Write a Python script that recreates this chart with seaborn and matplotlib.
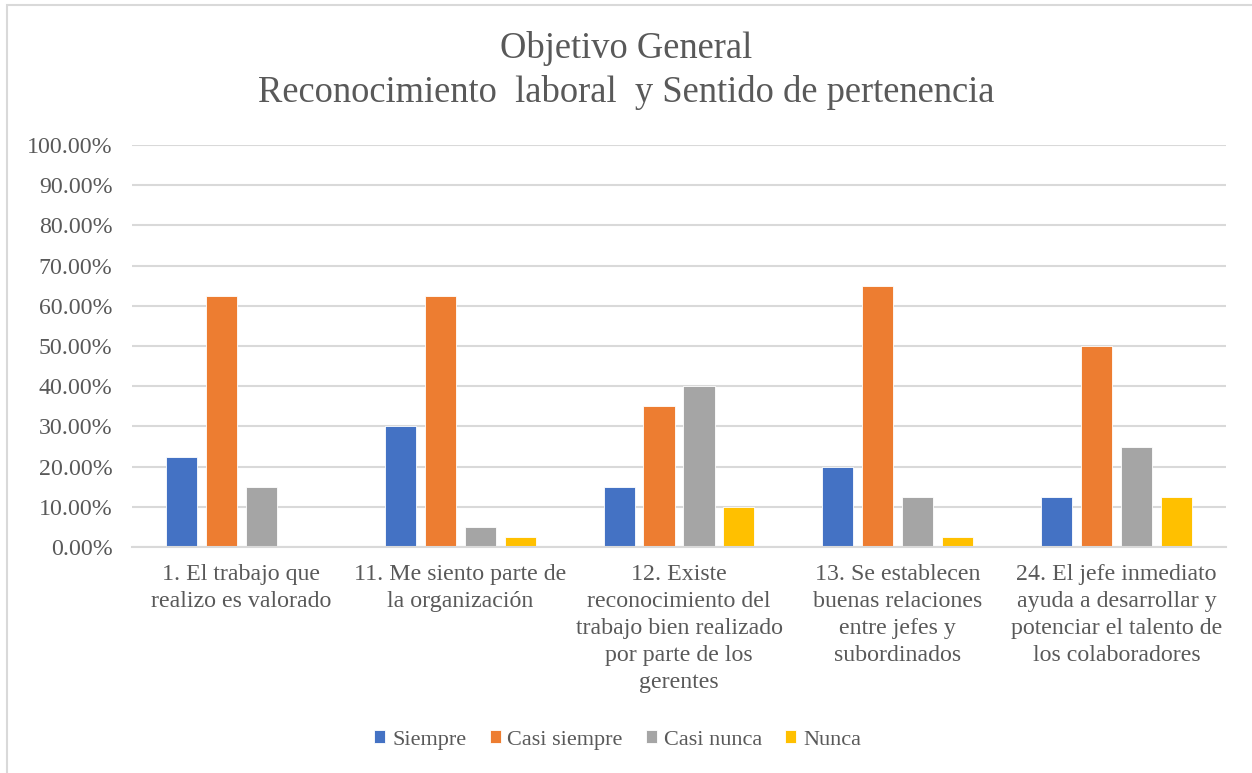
import pandas as pd
import seaborn as sns
import matplotlib.pyplot as plt
from matplotlib.patches import Rectangle
from matplotlib.ticker import FuncFormatter

categories = [
    "1. El trabajo que\nrealizo es valorado",
    "11. Me siento parte de\nla organización",
    "12. Existe\nreconocimiento del\ntrabajo bien realizado\npor parte de los\ngerentes",
    "13. Se establecen\nbuenas relaciones\nentre jefes y\nsubordinados",
    "24. El jefe inmediato\nayuda a desarrollar y\npotenciar el talento de\nlos colaboradores",
]
series = ["Siempre", "Casi siempre", "Casi nunca", "Nunca"]
siempre = [22.5, 30.0, 15.0, 20.0, 12.5]
casi_siempre = [62.5, 62.5, 35.0, 65.0, 50.0]
casi_nunca = [15.0, 5.0, 40.0, 12.5, 25.0]
nunca = [0.0, 2.5, 10.0, 2.5, 12.5]
colors = ["#4472C4", "#ED7D31", "#A5A5A5", "#FFC000"]

rows = []
for name, vals in zip(series, [siempre, casi_siempre, casi_nunca, nunca]):
    for cat, v in zip(categories, vals):
        rows.append({"cat": cat, "serie": name, "valor": v})
df = pd.DataFrame(rows)

sns.set_style("white")
plt.rcParams["font.family"] = ["Liberation Serif", "DejaVu Serif"]
text_color = "#595959"

fig = plt.figure(figsize=(12.52, 7.73), dpi=100)
ax = fig.add_axes([132 / 1252, 1 - 547 / 773, (1226 - 132) / 1252, (547 - 145) / 773])

sns.barplot(data=df, x="cat", y="valor", hue="serie", hue_order=series,
            palette=colors, saturation=1, width=0.73, gap=0.22, ax=ax,
            edgecolor="white", linewidth=0.6, legend=True)

ax.set_ylim(0, 100)
ax.set_xlim(-0.5, 4.5)
ax.set_yticks(range(0, 101, 10))
ax.yaxis.set_major_formatter(FuncFormatter(lambda v, p: f"{v:.2f}%"))
ax.grid(axis="y", color="#D9D9D9", linewidth=1.5)
ax.set_axisbelow(True)
for s in ["top", "right", "left"]:
    ax.spines[s].set_visible(False)
ax.spines["bottom"].set_color("#D9D9D9")
ax.spines["bottom"].set_linewidth(1.5)
ax.set_xlabel("")
ax.set_ylabel("")
ax.tick_params(axis="y", length=0, pad=14, labelsize=17.2, labelcolor=text_color)
ax.tick_params(axis="x", length=0, pad=12, labelsize=17.2, labelcolor=text_color)
for lab in ax.get_xticklabels():
    lab.set_linespacing(1.38)
    lab.set_verticalalignment("top")

fig.text(0.5, 1 - 48 / 773, "Objetivo General", ha="center", va="center",
         fontsize=26.3, color=text_color)
fig.text(0.5, 1 - 93 / 773, "Reconocimiento  laboral  y Sentido de pertenencia",
         ha="center", va="center", fontsize=26.3, color=text_color)

ax.legend(loc="center", bbox_to_anchor=(0.444, -0.48), ncol=4, frameon=False,
          fontsize=16, labelcolor=text_color, handlelength=0.5, handleheight=0.5,
          handletextpad=0.3, columnspacing=1.05)

fig.patches.append(Rectangle((7 / 1252, -0.1), 1.2, 1 - 5 / 773 + 0.1,
                             transform=fig.transFigure, fill=False,
                             edgecolor="#D9D9D9", linewidth=1.5))

fig.savefig("out.png", dpi=100)
